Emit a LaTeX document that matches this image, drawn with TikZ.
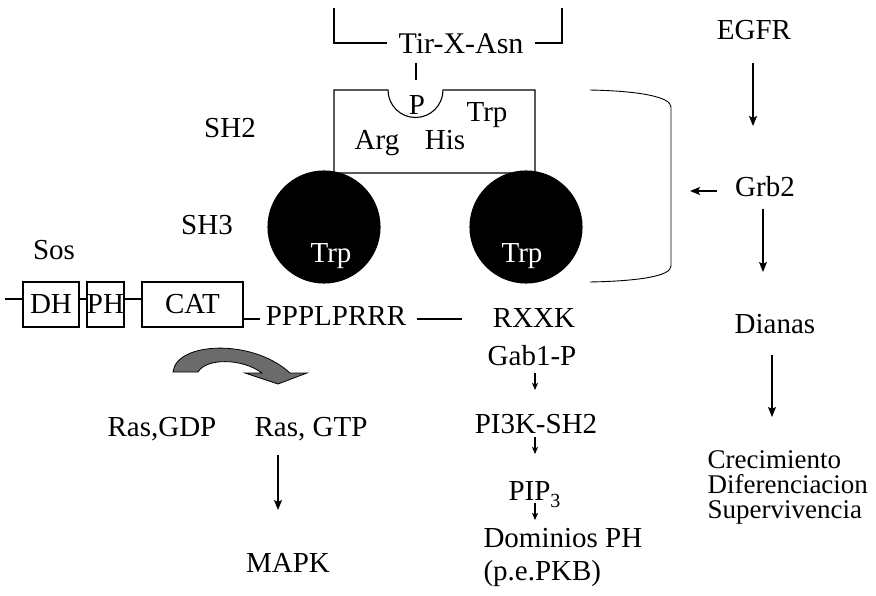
\documentclass[tikz,border=0pt]{standalone}
\usepackage{fontspec}
\setmainfont{Liberation Serif}
\usetikzlibrary{arrows.meta}
\begin{document}
\begin{tikzpicture}[x=1pt,y=-1pt,line width=1.1pt,
  txt/.style={font=\fontsize{29}{25}\selectfont, inner sep=0pt},
  bl/.style={txt, anchor=base},
  blw/.style={txt, anchor=base west},
  smallw/.style={anchor=base west, inner sep=0pt, font=\fontsize{27}{25}\selectfont},
  dom/.style={draw, rectangle, txt, minimum height=45pt},
  ball/.style={circle, fill=black, draw=black, minimum size=112pt, inner sep=0pt},
  arr/.style={-{Stealth[length=10pt,width=8pt,inset=2pt]}},
  sarr/.style={-{Stealth[length=7pt,width=6pt,inset=1.5pt]}}]
\useasboundingbox (0,0) rectangle (876,596);
% top bracket and Tir-X-Asn
\coordinate (bl1) at (334,8);
\coordinate (bl2) at (387,43);
\coordinate (br1) at (535,43);
\coordinate (br2) at (562,8);
\draw (bl1) |- (bl2);
\draw (br1) -| (br2);
\node[bl, font=\fontsize{30}{25}\selectfont] (tir) at (461,54) {Tir-X-Asn};
\coordinate (tk1) at (416,63);
\coordinate (tk2) at (416,80);
\draw (tk1) -- (tk2);
% SH2 box with notch
\draw (334,90) -- (388,90) .. controls (388,105.2) and (400.3,117.5) .. (415.5,117.5)
  .. controls (430.7,117.5) and (443,105.2) .. (443,90) -- (535,90) -- (535,173) -- (334,173) -- cycle;
\node[bl] (p) at (417,115) {P};
\node[bl] (trpa) at (487,122) {Trp};
\node[bl] (arg) at (377,150) {Arg};
\node[bl] (his) at (445,150) {His};
\node[bl] (sh2) at (230,138) {SH2};
% SH3 balls
\node[ball] (c1) at (324,227) {};
\node[ball] (c2) at (526,227) {};
\node[bl, text=white] (trpb) at (331,262) {Trp};
\node[bl, text=white] (trpc) at (522,262) {Trp};
\node[bl] (sh3) at (207,235) {SH3};
% right bracket
\draw[line width=0.9pt] (590,90) .. controls (640,91) and (671,97) .. (671,107) -- (671,266)
  .. controls (671,276) and (640,281) .. (590,282);
% Sos
\node[bl] (sos) at (54,260) {Sos};
\node[dom, minimum width=56pt] (dh) at (51,304.5) {DH};
\node[dom, minimum width=37pt] (ph) at (105.5,304.5) {PH};
\node[dom, minimum width=101pt] (cat) at (192.5,304.5) {CAT};
\coordinate (sosl) at (5,299);
\draw (sosl) -- (dh.west|-sosl);
\draw (dh.east|-sosl) -- (ph.west|-sosl);
\draw (ph.east|-sosl) -- (cat.west|-sosl);
\node[bl] (ppp) at (336,325) {PPPLPRRR};
\coordinate (cl) at (243,319);
\coordinate (cl2) at (260,319);
\draw (cl) -- (cl2);
\node[bl] (rxxk) at (534,327) {RXXK};
\coordinate (pl1) at (417,319);
\coordinate (pl2) at (462,319);
\draw (pl1) -- (pl2);
% PI3K branch
\node[bl] (gab) at (532,365) {Gab1-P};
\node[bl] (pi3k) at (536,433) {PI3K-SH2};
\node[blw] (pip) at (508,500) {PIP\raisebox{-7pt}{\fontsize{20}{20}\selectfont 3}};
\node[blw] (dom1) at (483,547) {Dominios PH};
\node[blw] (dom2) at (483,580) {(p.e.PKB)};
\coordinate (a1) at (535,373); \coordinate (a2) at (535,390);
\coordinate (a3) at (535,437); \coordinate (a4) at (535,454);
\coordinate (a5) at (535,503); \coordinate (a6) at (535,520);
\draw[sarr] (a1) -- (a2);
\draw[sarr] (a3) -- (a4);
\draw[sarr] (a5) -- (a6);
% Ras
\draw[fill=black!58, line width=0.8pt] (173,372) .. controls (176,342) and (252,338) .. (290,373)
  -- (307,373) -- (278,384) -- (245,373) -- (262,373)
  .. controls (242,358) and (206,358) .. (198,372) -- cycle;
\node[bl] (rgdp) at (162,436) {Ras,GDP};
\node[bl] (rgtp) at (311,436) {Ras, GTP};
\node[bl] (mapk) at (288,572) {MAPK};
\coordinate (m1) at (278,455); \coordinate (m2) at (278,510);
\draw[arr] (m1) -- (m2);
% right column
\node[bl] (egfr) at (754,40) {EGFR};
\node[bl] (grb2) at (765,197) {Grb2};
\node[bl] (dian) at (775,333) {Dianas};
\node[smallw] (cre) at (707,468) {Crecimiento};
\node[smallw] (dif) at (707,493) {Diferenciacion};
\node[smallw] (sup) at (707,518) {Supervivencia};
\coordinate (e1) at (753,63); \coordinate (e2) at (753,126);
\coordinate (g1) at (763,209); \coordinate (g2) at (763,272);
\coordinate (d1) at (772,355); \coordinate (d2) at (772,417);
\coordinate (l1) at (717,191); \coordinate (l2) at (690,191);
\draw[arr] (e1) -- (e2);
\draw[arr] (g1) -- (g2);
\draw[arr] (d1) -- (d2);
\draw[arr] (l1) -- (l2);
\end{tikzpicture}
\end{document}
